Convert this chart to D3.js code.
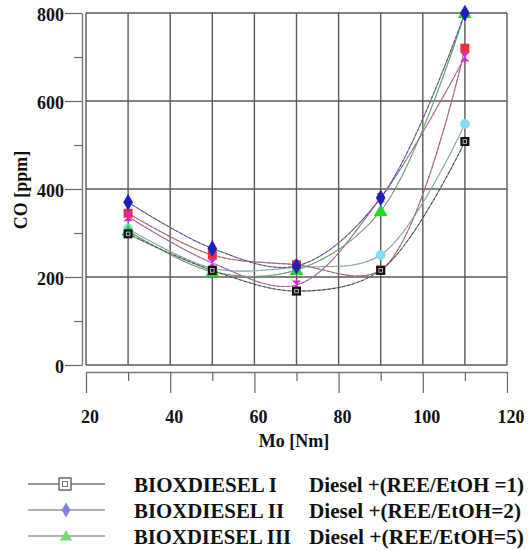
<!DOCTYPE html>
<html>
<head>
<meta charset="utf-8">
<script src="https://cdn.jsdelivr.net/npm/d3@7.9.0/dist/d3.min.js"></script>
<style>
  body { margin: 0; background: #fff; }
  svg text { font-family: "Liberation Serif", "Times New Roman", serif; font-weight: bold; fill: #111; }
</style>
</head>
<body>
<svg id="chart" width="530" height="550"></svg>
<script>
// torque values (Mo, Nm)
const loads = [30, 50, 70, 90, 110];

// CO emissions, ppm
const bioI   = [298, 215, 168, 215, 508];
const bioII  = [370, 265, 225, 380, 800];
const bioIII = [305, 212, 216, 350, 800];
const bioIV  = [345, 250, 228, 216, 720];
const bioV   = [337, 232, 182, 380, 700];
const bioVI  = [310, 220, 222, 250, 548];

const xTicks = [20, 40, 60, 80, 100, 120];
const yTicks = [0, 200, 400, 600, 800];

const legendNames = ['BIOXDIESEL I', 'BIOXDIESEL II', 'BIOXDIESEL III'];
const legendMixes = ['Diesel +(REE/EtOH =1)', 'Diesel +(REE/EtOH=2)', 'Diesel +(REE/EtOH=5)'];

// drawing order: later ones sit on top
const series = [
  { values: bioVI,  color: '#7fe0f0', shape: 'circle' },
  { values: bioIII, color: '#22dd22', shape: 'triangle' },
  { values: bioIV,  color: '#e8303a', shape: 'square' },
  { values: bioV,   color: '#e020d8', shape: 'bowtie' },
  { values: bioII,  color: '#2020b8', shape: 'diamond' },
  { values: bioI,   color: '#111111', shape: 'box' }
];

const svg = d3.select('#chart');
const mLeft = 86, mRight = 507, mTop = 13, mBottom = 365;

const x = d3.scaleLinear().domain([20, 120]).range([mLeft, mRight]);
const y = d3.scaleLinear().domain([0, 800]).range([mBottom, mTop]);

const grid = svg.append('g').attr('stroke', '#5a5a5a').attr('stroke-width', 1.4);

// vertical grid every 10 Nm
d3.range(20, 121, 10).forEach(v => {
  grid.append('line')
    .attr('x1', x(v)).attr('x2', x(v))
    .attr('y1', y(800)).attr('y2', y(0));
});
yTicks.forEach(v => {
  grid.append('line')
    .attr('x1', x(20)).attr('x2', x(120))
    .attr('y1', y(v)).attr('y2', y(v));
});

// y axis, drawn a bit left of the frame
const yAxis = svg.append('g').attr('transform', `translate(${mLeft - 4},0)`);
yAxis.call(d3.axisLeft(y).tickValues(d3.range(0, 801, 100)).tickSize(0).tickFormat(''));
yAxis.select('.domain').attr('stroke', '#777').attr('stroke-width', 1.4);
yAxis.selectAll('.tick line')
  .attr('stroke', '#666').attr('stroke-width', 1.2)
  .attr('x2', d => d % 200 === 0 ? -17 : -8);
yTicks.forEach(v => {
  svg.append('text')
    .attr('x', 64).attr('y', y(v) + 4)
    .attr('text-anchor', 'end')
    .attr('dominant-baseline', 'middle')
    .attr('font-size', 18)
    .text(v);
});

// x axis, drawn a bit below the frame
const xAxis = svg.append('g').attr('transform', `translate(0,${mBottom + 7})`);
xAxis.call(d3.axisBottom(x).tickValues(d3.range(20, 121, 10)).tickSize(0).tickFormat(''));
xAxis.select('.domain').attr('stroke', '#777').attr('stroke-width', 1.4);
xAxis.selectAll('.tick line')
  .attr('stroke', '#666').attr('stroke-width', 1.2)
  .attr('y2', d => d % 20 === 0 ? 21 : 9);
xTicks.forEach(v => {
  svg.append('text')
    .attr('x', x(v) + 4).attr('y', 423)
    .attr('text-anchor', 'middle')
    .attr('font-size', 18)
    .text(v);
});

svg.append('text')
  .attr('x', 294).attr('y', 447)
  .attr('text-anchor', 'middle')
  .attr('font-size', 18)
  .text('Mo [Nm]');

svg.append('text')
  .attr('transform', 'translate(27,190) rotate(-90)')
  .attr('text-anchor', 'middle')
  .attr('font-size', 18)
  .text('CO [ppm]');

// curves
const line = d3.line()
  .x((d, i) => x(loads[i]))
  .y(d => y(d))
  .curve(d3.curveCatmullRom.alpha(0.5));

const plot = svg.append('g');
series.forEach(s => {
  plot.append('path')
    .attr('d', line(s.values))
    .attr('fill', 'none')
    .attr('stroke', '#8a8a8a')
    .attr('stroke-width', 1.1);
});
series.forEach(s => {
  plot.append('path')
    .attr('d', line(s.values))
    .attr('fill', 'none')
    .attr('stroke', s.color)
    .attr('stroke-width', 0.9)
    .attr('stroke-dasharray', '3,2')
    .attr('opacity', 0.7);
});

function marker(g, shape, color, cx, cy, r) {
  if (shape === 'circle') {
    g.append('circle').attr('cx', cx).attr('cy', cy).attr('r', r)
      .attr('fill', color).attr('stroke', color);
  } else if (shape === 'square') {
    g.append('rect').attr('x', cx - r).attr('y', cy - r)
      .attr('width', 2 * r).attr('height', 2 * r).attr('fill', color);
  } else if (shape === 'box') {
    g.append('rect').attr('x', cx - r).attr('y', cy - r)
      .attr('width', 2 * r).attr('height', 2 * r).attr('fill', color);
    g.append('rect').attr('x', cx - r / 2.5).attr('y', cy - r / 2.5)
      .attr('width', r / 1.25).attr('height', r / 1.25)
      .attr('fill', 'none').attr('stroke', '#ddd').attr('stroke-width', 0.8);
  } else if (shape === 'diamond') {
    g.append('path').attr('d', d3.symbol(d3.symbolDiamond, 4 * r * r)())
      .attr('transform', `translate(${cx},${cy})`).attr('fill', color);
  } else if (shape === 'triangle') {
    g.append('path').attr('d', d3.symbol(d3.symbolTriangle, 4 * r * r)())
      .attr('transform', `translate(${cx},${cy + 1})`).attr('fill', color);
  } else if (shape === 'bowtie') {
    g.append('path')
      .attr('d', `M${cx - r},${cy - r}L${cx + r},${cy - r}L${cx - r},${cy + r}L${cx + r},${cy + r}Z`)
      .attr('fill', color);
  }
}

series.forEach(s => {
  s.values.forEach((v, i) => marker(plot, s.shape, s.color, x(loads[i]), y(v), 4.5));
});

// legend (only the first three rows fit in the picture)
const legendRows = [
  { shape: 'box', color: '#555', y: 484 },
  { shape: 'diamond', color: '#8080e0', y: 510 },
  { shape: 'triangle', color: '#70e070', y: 536 }
];
legendRows.forEach((row, i) => {
  const g = svg.append('g');
  g.append('line')
    .attr('x1', 28).attr('x2', 105)
    .attr('y1', row.y).attr('y2', row.y)
    .attr('stroke', i === 0 ? '#777' : '#999').attr('stroke-width', 1.3);
  if (row.shape === 'box') {
    g.append('rect').attr('x', 59).attr('y', row.y - 6).attr('width', 12).attr('height', 12)
      .attr('fill', '#fff').attr('stroke', '#555').attr('stroke-width', 1.3);
    g.append('rect').attr('x', 62.5).attr('y', row.y - 2.5).attr('width', 5).attr('height', 5)
      .attr('fill', 'none').attr('stroke', '#777').attr('stroke-width', 1);
  } else {
    marker(g, row.shape, row.color, 66, row.y, 4);
  }
  g.append('text')
    .attr('x', 134).attr('y', row.y + 8)
    .attr('font-size', 20)
    .attr('textLength', [143, 150, 157][i])
    .attr('lengthAdjust', 'spacingAndGlyphs')
    .text(legendNames[i]);
  g.append('text')
    .attr('x', 309).attr('y', row.y + 8)
    .attr('font-size', 20)
    .attr('textLength', [215, 212, 215][i])
    .attr('lengthAdjust', 'spacingAndGlyphs')
    .text(legendMixes[i]);
});
</script>
</body>
</html>
